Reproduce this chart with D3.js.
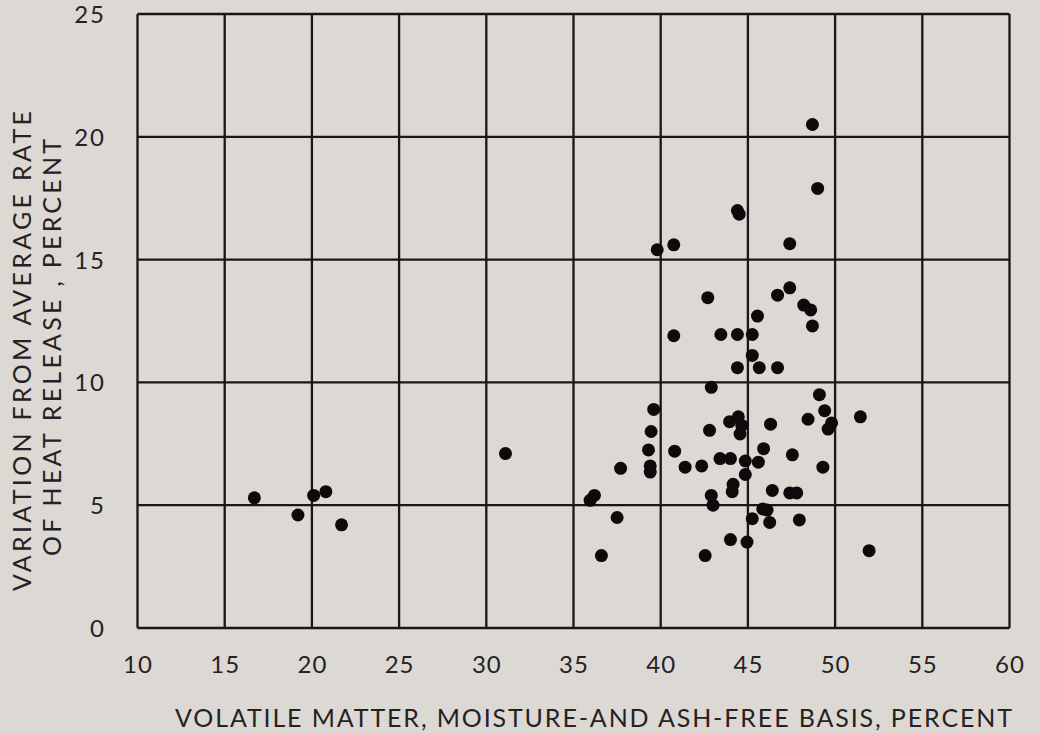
<!DOCTYPE html>
<html>
<head>
<meta charset="utf-8">
<script src="https://cdn.jsdelivr.net/npm/d3@7"></script>
<style>
  html, body { margin: 0; padding: 0; background: #dcd9d4; }
  svg { display: block; }
  text { font-family: Lato, "Noto Sans", sans-serif; fill: #262123; }
</style>
</head>
<body>
<svg id="chart" width="1040" height="733"></svg>
<script>
// Volatile matter (moisture- and ash-free, %) of each coal tested
const volatileMatter = [
  16.7, 19.2, 20.1, 20.8, 21.7, 31.1, 35.95, 36.2, 36.6, 37.5,
  37.7, 39.3, 39.45, 39.6, 39.4, 39.4, 39.8, 40.75, 40.75, 40.8,
  41.4, 42.35, 42.55, 42.7, 42.8, 42.9, 42.9, 43.0, 43.4, 43.45,
  43.95, 44.0, 44.0, 44.15, 44.1, 44.4, 44.5, 44.4, 44.4, 44.45,
  44.65, 44.55, 44.85, 44.85, 44.95, 45.25, 45.25, 45.25, 45.55, 45.6,
  45.65, 45.9, 45.85, 46.1, 46.25, 46.3, 46.4, 46.7, 46.7, 47.4,
  47.4, 47.55, 47.4, 47.8, 47.95, 48.2, 48.6, 48.45, 48.7, 48.7,
  49.0, 49.1, 49.4, 49.8, 49.6, 49.3, 51.45, 51.95
];
// Variation from the average rate of heat release (%) for the same coals
const heatReleaseVariation = [
  5.3, 4.6, 5.4, 5.55, 4.2, 7.1, 5.2, 5.4, 2.95, 4.5,
  6.5, 7.25, 8.0, 8.9, 6.6, 6.35, 15.4, 15.6, 11.9, 7.2,
  6.55, 6.6, 2.95, 13.45, 8.05, 9.8, 5.4, 5.0, 6.9, 11.95,
  8.4, 6.9, 3.6, 5.85, 5.55, 17.0, 16.85, 11.95, 10.6, 8.6,
  8.25, 7.9, 6.8, 6.25, 3.5, 11.95, 11.1, 4.45, 12.7, 6.75,
  10.6, 7.3, 4.85, 4.8, 4.3, 8.3, 5.6, 13.55, 10.6, 15.65,
  13.85, 7.05, 5.5, 5.5, 4.4, 13.15, 12.95, 8.5, 12.3, 20.5,
  17.9, 9.5, 8.85, 8.35, 8.1, 6.55, 8.6, 3.15
];

const xTicks = [10, 15, 20, 25, 30, 35, 40, 45, 50, 55, 60];
const yTicks = [0, 5, 10, 15, 20, 25];
const xTitle = "VOLATILE MATTER, MOISTURE-AND ASH-FREE BASIS, PERCENT";
const yTitleLines = ["VARIATION FROM AVERAGE RATE", "OF HEAT RELEASE , PERCENT"];

const svg = d3.select("#chart");
const ink = "#1c1517";

const x = d3.scaleLinear().domain([10, 60]).range([137.5, 1009.5]);
const y = d3.scaleLinear().domain([0, 25]).range([628, 14]);

// grid
const grid = svg.append("g").attr("stroke", ink).attr("stroke-width", 2.3);
grid.selectAll("line.v").data(xTicks).join("line")
  .attr("class", "v")
  .attr("x1", d => x(d)).attr("x2", d => x(d))
  .attr("y1", y(25)).attr("y2", y(0));
grid.selectAll("line.h").data(yTicks).join("line")
  .attr("class", "h")
  .attr("x1", x(10)).attr("x2", x(60))
  .attr("y1", d => y(d)).attr("y2", d => y(d));

// axes (labels only, the grid forms the frame)
const xAxis = d3.axisBottom(x).tickValues(xTicks).tickSize(0).tickPadding(0);
const gx = svg.append("g").attr("transform", `translate(0,${y(0) + 45})`).call(xAxis);
gx.select(".domain").remove();
gx.selectAll("text").attr("dy", 0).attr("y", 0)
  .style("font-size", "24px").style("letter-spacing", "1px").style("fill", "#262123");

const yAxis = d3.axisLeft(y).tickValues(yTicks).tickSize(0).tickPadding(0);
const gy = svg.append("g").attr("transform", `translate(106,0)`).call(yAxis);
gy.select(".domain").remove();
gy.selectAll("text").attr("x", 0).attr("dy", "0.35em")
  .style("font-size", "24px").style("letter-spacing", "2px").style("fill", "#262123");

// points
const pts = volatileMatter.map((v, i) => ({ v, h: heatReleaseVariation[i] }));
svg.append("g").selectAll("circle").data(pts).join("circle")
  .attr("cx", d => x(d.v)).attr("cy", d => y(d.h))
  .attr("r", 6.5).attr("fill", "#0e0a0b");

// titles
svg.append("text")
  .attr("x", 175).attr("y", 727)
  .attr("textLength", 837).attr("lengthAdjust", "spacing")
  .style("font-size", "25px")
  .text(xTitle);

const yt = [{ t: yTitleLines[0], bx: 31, y0: 591, len: 480 },
            { t: yTitleLines[1], bx: 61, y0: 556, len: 417 }];
svg.selectAll("text.ytitle").data(yt).join("text")
  .attr("class", "ytitle")
  .attr("transform", d => `translate(${d.bx},${d.y0}) rotate(-90)`)
  .attr("textLength", d => d.len).attr("lengthAdjust", "spacing")
  .style("font-size", "25px")
  .text(d => d.t);
</script>
</body>
</html>
